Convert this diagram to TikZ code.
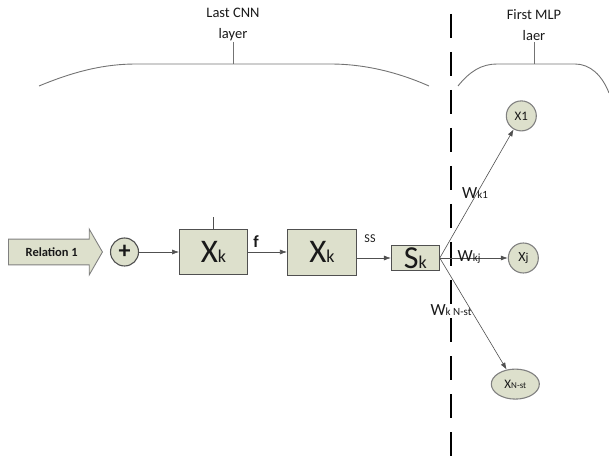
\documentclass[tikz,border=0pt]{standalone}
\usepackage{fontspec}
\setmainfont{Carlito}
\usepackage{xcolor}
\usepackage{tikz}
\usetikzlibrary{positioning,shapes.arrows,shapes.geometric,arrows.meta}

\definecolor{boxfill}{RGB}{221,224,204}
\definecolor{boxline}{RGB}{80,80,80}
\definecolor{txt}{RGB}{25,25,25}
\newcommand{\fs}[2]{{\fontsize{#1}{#1}\selectfont #2}}

\begin{document}
\begin{tikzpicture}[x=1pt, y=1pt, >={Latex[length=7pt,width=5pt]}, text=txt,
    block/.style = {draw=boxline, fill=boxfill, line width=0.9pt, inner sep=0pt},
    unit/.style = {draw=gray, fill=boxfill, circle, line width=1.1pt, minimum size=30pt, inner sep=0pt},
    link/.style = {draw=boxline, line width=0.6pt},
    brace/.style = {draw=gray!90!black, line width=0.9pt},
    head/.style = {align=center, font=\fontsize{14.5}{21}\selectfont, inner sep=1pt}]
    \useasboundingbox (0,0) rectangle (609,463);

    % layer titles and brackets
    \node[head, anchor=south] (cnn) at (233,421) {Last CNN\\layer};
    \node[head, anchor=south] (mlp) at (534,421) {First MLP\\laer};
    \draw[brace] (39,377) .. controls (75,392) and (105,399) .. (136,399) -- (330,399)
        .. controls (362,399) and (395,392) .. (429,377);
    \draw[brace] (458,377) .. controls (470,392) and (482,399) .. (497,399) -- (575,399)
        .. controls (590,399) and (602,388) .. (609,370);
    \draw[brace] (cnn.south) -- (cnn.south |- 0,399);
    \draw[brace] (mlp.south) -- (mlp.south |- 0,399);

    % separation between the two layers
    \draw[line width=2.6pt, dash pattern=on 24pt off 14pt] (451,449) -- (451,0);

    \node[single arrow, draw=gray, fill=boxfill, line width=0.9pt, inner ysep=8pt,
        single arrow head extend=10pt, single arrow tip angle=120, minimum height=94pt,
        font=\fontsize{12.5}{12.5}\selectfont\bfseries, anchor=tail] (rel) at (8,211) {Relation 1};
    \node[unit, draw=boxline, minimum size=28pt, font=\fontsize{24}{24}\selectfont\bfseries]
        (plus) [right=7pt of rel.tip] {+};
    \node[block, minimum width=68pt, minimum height=45pt] (box1) [right=40pt of plus]
        {\fs{33}{X}\fs{18}{k}};
    \node[block, minimum width=69pt, minimum height=46pt] (box2) [right=39pt of box1]
        {\fs{33}{X}\fs{18}{k}};
    \node[block, minimum width=48pt, minimum height=25pt] (sk) [right=34pt of box2, yshift=-6pt]
        {\fs{32}{S}\fs{18}{k}};

    \node[unit] (xj) [right=68pt of sk] {\fs{14}{X}\fs{12}{j}};
    \node[unit] (x1) [above=111pt of xj, xshift=-2pt] {\fs{13}{X1}};
    \node[unit, ellipse, minimum width=48pt, minimum height=30pt] (xn) [below=95pt of xj, xshift=-8pt]
        {\fs{13}{X}\fs{9}{N-st}};

    \draw[boxline, line width=0.9pt] (box1.north) -- ++(0,12);
    \draw[link, ->] (plus) -- (box1);
    \draw[link, ->] (box1) -- (box2);
    \draw[link, ->] (box2.east |- sk.west) -- (sk.west);
    \draw[link, ->] (sk.east) -- (x1);
    \draw[link, ->] (sk.east) -- (xj);
    \draw[link, ->] (sk.east) -- (xn);

    % connector labels
    \node (f) at (256,221) {\fs{17}{\bfseries f}};
    \node (ss) at (370,224) {\fs{12}{SS}};
    \node (wk1) at (475,270) {\fs{17}{W}\fs{11}{k1}};
    \node (wkj) at (469,206) {\fs{17}{W}\fs{11}{kj}};
    \node (wkn) at (451,153) {\fs{17}{W}\fs{11}{k N-st}};
\end{tikzpicture}
\end{document}
